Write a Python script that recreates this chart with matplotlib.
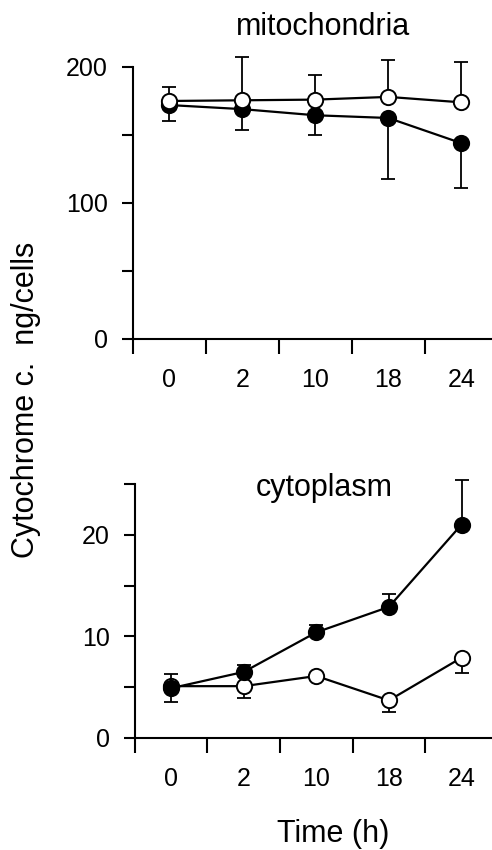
import numpy as np
import matplotlib
matplotlib.use('Agg')
import matplotlib.pyplot as plt

plt.rcParams.update({'font.size': 18, 'font.family': 'Liberation Sans'})

times = ['0', '2', '10', '18', '24']

# mitochondria (top panel)
mito_open = [175, 175.5, 176, 178, 174]
mito_open_err = [10, 32, 18, 27, 30]       # upper only
mito_filled = [172, 169, 164.5, 162.5, 144]
mito_filled_err = [12, 15, 14.5, 45, 33]   # lower only

# cytoplasm (bottom panel)
cyto_filled = [4.9, 6.5, 10.4, 12.9, 21.0]
cyto_filled_err = [1.4, 0.7, 0.7, 1.3, 4.4]  # upper only
cyto_open = [5.1, 5.1, 6.1, 3.7, 7.9]
cyto_open_err = [1.6, 1.2, 0.0, 1.1, 1.5]    # lower only

fig = plt.figure(figsize=(4.92, 8.5), dpi=100)
ax1 = fig.add_axes([0.270, 0.6012, 0.730, 0.3200])
ax2 = fig.add_axes([0.274, 0.1318, 0.726, 0.2988])

x = np.arange(len(times))
zeros = np.zeros(len(times))


def series(ax, y, lo, hi, face, z):
    eb = ax.errorbar(x, y, yerr=[lo, hi], fmt='none', ecolor='black',
                     elinewidth=1.3, capsize=5, capthick=1.3, zorder=z)
    for art in eb.lines[1] + eb.lines[2]:
        art.set_clip_on(False)
    ax.plot(x, y, color='black', lw=1.6, marker='o', markersize=11,
            markerfacecolor=face, markeredgecolor='black',
            markeredgewidth=1.4, zorder=z + 1, clip_on=False)


series(ax1, mito_filled, mito_filled_err, zeros, 'black', 2)
series(ax1, mito_open, zeros, mito_open_err, 'white', 4)

series(ax2, cyto_open, cyto_open_err, zeros, 'white', 2)
series(ax2, cyto_filled, zeros, cyto_filled_err, 'black', 4)

for ax, top, major, minor in [(ax1, 200, [0, 100, 200], [50, 150]),
                              (ax2, 25, [0, 10, 20], [5, 15, 25])]:
    ax.set_xlim(-0.5, 4.42)
    ax.set_ylim(0, top)
    for s in ['top', 'right']:
        ax.spines[s].set_visible(False)
    for s in ['left', 'bottom']:
        ax.spines[s].set_linewidth(1.5)
    ax.set_yticks(major)
    ax.set_yticks(minor, minor=True)
    ax.tick_params(axis='y', which='both', direction='out', length=8,
                   width=1.5, pad=10)
    # ticks between categories, labels at categories
    ax.set_xticks(np.arange(-0.5, 4, 1.0))
    ax.set_xticklabels([])
    ax.set_xticks(x, minor=True)
    ax.set_xticklabels(times, minor=True)
    ax.tick_params(axis='x', which='major', direction='out', length=11,
                   width=1.5)
    ax.tick_params(axis='x', which='minor', length=0, pad=21)

fig.text(0.657, 0.9588, 'mitochondria', fontsize=22, ha='center', va='baseline')
fig.text(0.659, 0.4165, 'cytoplasm', fontsize=22, ha='center', va='baseline')
fig.text(0.677, 0.019, 'Time (h)', fontsize=22, ha='center', va='center')
fig.text(0.052, 0.529, 'Cytochrome c.  ng/cells', fontsize=22,
         ha='center', va='center', rotation=90)

plt.savefig('out.png', dpi=100)
